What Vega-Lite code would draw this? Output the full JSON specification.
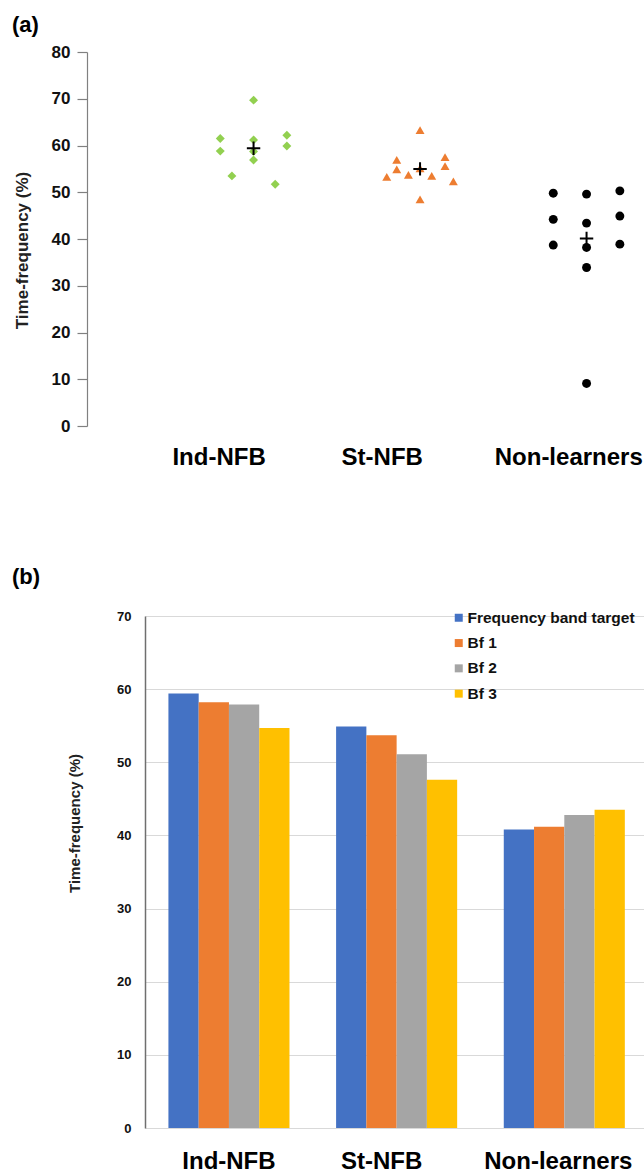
{
  "$schema": "https://vega.github.io/schema/vega-lite/v6.json",
  "padding": {"left": 12, "top": 14, "right": 0, "bottom": 0},
  "autosize": {"type": "pad"},
  "config": {"font": "Liberation Sans", "view": {"stroke": null}},
  "datasets": {
    "points": [
      {"group": "Ind-NFB", "pos": 0.8, "value": 61.5},
      {"group": "Ind-NFB", "pos": 0.8, "value": 58.8},
      {"group": "Ind-NFB", "pos": 0.87, "value": 53.5},
      {"group": "Ind-NFB", "pos": 1.0, "value": 69.7},
      {"group": "Ind-NFB", "pos": 1.0, "value": 61.2},
      {"group": "Ind-NFB", "pos": 1.0, "value": 58.7},
      {"group": "Ind-NFB", "pos": 1.0, "value": 56.9},
      {"group": "Ind-NFB", "pos": 1.13, "value": 51.7},
      {"group": "Ind-NFB", "pos": 1.2, "value": 62.2},
      {"group": "Ind-NFB", "pos": 1.2, "value": 59.9},
      {"group": "St-NFB", "pos": 1.8, "value": 53.3},
      {"group": "St-NFB", "pos": 1.86, "value": 56.9},
      {"group": "St-NFB", "pos": 1.86, "value": 54.9},
      {"group": "St-NFB", "pos": 1.93, "value": 53.7},
      {"group": "St-NFB", "pos": 2.0, "value": 63.3},
      {"group": "St-NFB", "pos": 2.0, "value": 55.1},
      {"group": "St-NFB", "pos": 2.0, "value": 48.5},
      {"group": "St-NFB", "pos": 2.07, "value": 53.5},
      {"group": "St-NFB", "pos": 2.15, "value": 57.5},
      {"group": "St-NFB", "pos": 2.15, "value": 55.6},
      {"group": "St-NFB", "pos": 2.2, "value": 52.3},
      {"group": "Non-learners", "pos": 2.8, "value": 49.8},
      {"group": "Non-learners", "pos": 2.8, "value": 44.2},
      {"group": "Non-learners", "pos": 2.8, "value": 38.7},
      {"group": "Non-learners", "pos": 3.0, "value": 49.6},
      {"group": "Non-learners", "pos": 3.0, "value": 43.4},
      {"group": "Non-learners", "pos": 3.0, "value": 38.2},
      {"group": "Non-learners", "pos": 3.0, "value": 33.9},
      {"group": "Non-learners", "pos": 3.0, "value": 9.1},
      {"group": "Non-learners", "pos": 3.2, "value": 50.3},
      {"group": "Non-learners", "pos": 3.2, "value": 44.9},
      {"group": "Non-learners", "pos": 3.2, "value": 38.9}
    ],
    "means": [
      {"group": "Ind-NFB", "pos": 1.0, "value": 59.4},
      {"group": "St-NFB", "pos": 2.0, "value": 55.0},
      {"group": "Non-learners", "pos": 3.0, "value": 40.1}
    ],
    "bars": [
      {"group": "Ind-NFB", "series": "Frequency band target", "value": 59.4},
      {"group": "Ind-NFB", "series": "Bf 1", "value": 58.2},
      {"group": "Ind-NFB", "series": "Bf 2", "value": 57.9},
      {"group": "Ind-NFB", "series": "Bf 3", "value": 54.7},
      {"group": "St-NFB", "series": "Frequency band target", "value": 54.9},
      {"group": "St-NFB", "series": "Bf 1", "value": 53.7},
      {"group": "St-NFB", "series": "Bf 2", "value": 51.1},
      {"group": "St-NFB", "series": "Bf 3", "value": 47.6},
      {"group": "Non-learners", "series": "Frequency band target", "value": 40.8},
      {"group": "Non-learners", "series": "Bf 1", "value": 41.2},
      {"group": "Non-learners", "series": "Bf 2", "value": 42.8},
      {"group": "Non-learners", "series": "Bf 3", "value": 43.5}
    ]
  },
  "concat": [
    {
      "width": 497,
      "height": 374,
      "title": {"text": "(a)", "anchor": "start", "frame": "group", "dx": -133, "fontSize": 22, "fontWeight": "bold", "color": "#000000", "offset": 6},
      "layer": [
        {
          "data": {"name": "points"},
          "mark": {"type": "point", "filled": true, "opacity": 1, "strokeWidth": 0},
          "encoding": {
            "x": {
              "field": "pos", "type": "quantitative",
              "scale": {"domain": [0.348, 3.333], "nice": false, "zero": false},
              "axis": {
                "title": null, "values": [0.79, 1.77, 2.89],
                "labelExpr": "datum.value < 1.2 ? 'Ind-NFB' : datum.value < 2.3 ? 'St-NFB' : 'Non-learners'",
                "domain": false, "ticks": false, "grid": false,
                "labelFontSize": 24, "labelFontWeight": "bold", "labelColor": "#000000",
                "labelPadding": 19, "labelFlush": false, "labelOverlap": false, "labelBound": false
              }
            },
            "y": {
              "field": "value", "type": "quantitative",
              "scale": {"domain": [0, 80], "nice": false},
              "axis": {
                "values": [0, 10, 20, 30, 40, 50, 60, 70, 80],
                "offset": 58,
                "title": "Time-frequency (%)", "titleFontSize": 17, "titleFontWeight": "bold", "titleColor": "#222222",
                "titleX": -65, "titleY": 198, "titleBaseline": "middle", "titleAngle": -90,
                "grid": false, "domainColor": "#808080", "domainWidth": 1.2,
                "tickColor": "#808080", "tickSize": 10, "tickWidth": 1.2,
                "labelFontSize": 17, "labelFontWeight": "bold", "labelColor": "#111111", "labelPadding": 7
              }
            },
            "shape": {
              "field": "group", "type": "nominal",
              "scale": {"domain": ["Ind-NFB", "St-NFB", "Non-learners"], "range": ["diamond", "triangle-up", "circle"]},
              "legend": null
            },
            "color": {
              "field": "group", "type": "nominal",
              "scale": {"domain": ["Ind-NFB", "St-NFB", "Non-learners"], "range": ["#92D050", "#ED7D31", "#000000"]},
              "legend": null
            },
            "size": {"value": 80}
          }
        },
        {
          "data": {"name": "means"},
          "mark": {"type": "point", "filled": false, "shape": "M-1,0H1M0,-1V1", "size": 180, "stroke": "#000000", "strokeWidth": 2, "opacity": 1},
          "encoding": {
            "x": {"field": "pos", "type": "quantitative"},
            "y": {"field": "value", "type": "quantitative"}
          }
        }
      ]
    },
    {
      "width": 499,
      "height": 512,
      "title": {"text": "(b)", "anchor": "start", "frame": "group", "dx": -133, "fontSize": 22, "fontWeight": "bold", "color": "#000000", "offset": 21},
      "data": {"name": "bars"},
      "mark": {"type": "bar"},
      "encoding": {
        "x": {
          "field": "group", "type": "nominal",
          "sort": ["Ind-NFB", "St-NFB", "Non-learners"],
          "scale": {"paddingInner": 0.278, "paddingOuter": 0.127, "align": 0.55},
          "axis": {
            "title": null, "labelAngle": 0, "domain": false, "ticks": false,
            "labelFontSize": 24, "labelFontWeight": "bold", "labelColor": "#000000", "labelPadding": 21,
            "labelOffset": {"condition": [{"test": "datum.value === 'St-NFB'", "value": -15}, {"test": "datum.value === 'Non-learners'", "value": -6}], "value": 0}
          }
        },
        "xOffset": {
          "field": "series", "type": "nominal",
          "sort": ["Frequency band target", "Bf 1", "Bf 2", "Bf 3"],
          "scale": {"paddingInner": 0, "paddingOuter": 0}
        },
        "y": {
          "field": "value", "type": "quantitative",
          "scale": {"domain": [0, 70], "nice": false},
          "axis": {
            "values": [0, 10, 20, 30, 40, 50, 60, 70],
            "title": "Time-frequency (%)", "titleFontSize": 15, "titleFontWeight": "bold", "titleColor": "#222222",
            "titleX": -71, "titleY": 207, "titleBaseline": "middle", "titleAngle": -90,
            "grid": true, "gridColor": "#D9D9D9", "gridWidth": 1,
            "domainColor": "#6F6F6F", "domainWidth": 1.5, "ticks": false,
            "labelFontSize": 13, "labelFontWeight": "bold", "labelColor": "#111111", "labelPadding": 14
          }
        },
        "color": {
          "field": "series", "type": "nominal",
          "sort": ["Frequency band target", "Bf 1", "Bf 2", "Bf 3"],
          "scale": {"domain": ["Frequency band target", "Bf 1", "Bf 2", "Bf 3"], "range": ["#4472C4", "#ED7D31", "#A5A5A5", "#FFC000"]},
          "legend": {
            "orient": "none", "legendX": 306, "legendY": -6, "title": null,
            "symbolType": "square", "symbolSize": 64, "symbolStrokeWidth": 0,
            "labelFontSize": 15.5, "labelFontWeight": "bold", "labelColor": "#111111",
            "labelLimit": 300, "rowPadding": 8.3, "labelOffset": 1, "padding": 0
          }
        }
      }
    }
  ],
  "columns": 1,
  "spacing": 97,
  "resolve": {"scale": {"color": "independent", "shape": "independent", "x": "independent", "y": "independent"}}
}
